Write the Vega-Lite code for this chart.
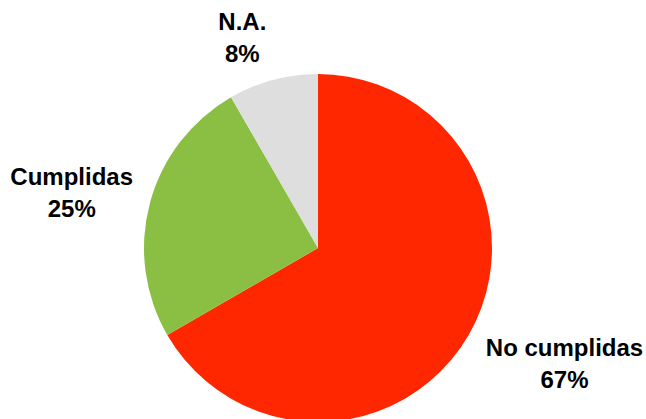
{
  "$schema": "https://vega.github.io/schema/vega-lite/v6.json",
  "width": 636,
  "height": 342,
  "autosize": {"type": "none"},
  "padding": {"left": 0, "top": 77, "right": 10, "bottom": 0},
  "background": "white",
  "config": {"view": {"stroke": null}},
  "data": {
    "values": [
      {"category": "No cumplidas", "value": 0.6667},
      {"category": "Cumplidas", "value": 0.25},
      {"category": "N.A.", "value": 0.0833}
    ]
  },
  "encoding": {
    "theta": {"field": "value", "type": "quantitative", "stack": true},
    "order": {"field": "value", "type": "quantitative", "sort": "descending"}
  },
  "layer": [
    {
      "mark": {"type": "arc", "outerRadius": 174},
      "encoding": {
        "color": {
          "field": "category",
          "type": "nominal",
          "scale": {"domain": ["No cumplidas", "Cumplidas", "N.A."], "range": ["#FF2700", "#8BBF43", "#DEDEDE"]},
          "legend": null
        }
      }
    },
    {
      "mark": {"type": "text", "radius": 222.9, "dx": -18, "dy": -10, "font": "Liberation Sans", "fontWeight": "bold", "fontSize": 24, "baseline": "middle", "align": "center", "color": "#000000"},
      "encoding": {"text": {"condition": {"test": "datum.category === 'N.A.'", "field": "category"}, "value": ""}}
    },
    {
      "mark": {"type": "text", "radius": 222.9, "dx": -18, "dy": 22, "font": "Liberation Sans", "fontWeight": "bold", "fontSize": 24, "baseline": "middle", "align": "center", "color": "#000000"},
      "encoding": {"text": {"condition": {"test": "datum.category === 'N.A.'", "field": "value", "format": ".0%"}, "value": ""}}
    },
    {
      "mark": {"type": "text", "radius": 251.9, "dx": -3, "dy": -5, "font": "Liberation Sans", "fontWeight": "bold", "fontSize": 24, "baseline": "middle", "align": "center", "color": "#000000"},
      "encoding": {"text": {"condition": {"test": "datum.category === 'Cumplidas'", "field": "category"}, "value": ""}}
    },
    {
      "mark": {"type": "text", "radius": 251.9, "dx": -3, "dy": 27, "font": "Liberation Sans", "fontWeight": "bold", "fontSize": 24, "baseline": "middle", "align": "center", "color": "#000000"},
      "encoding": {"text": {"condition": {"test": "datum.category === 'Cumplidas'", "field": "value", "format": ".0%"}, "value": ""}}
    },
    {
      "mark": {"type": "text", "radius": 273.1, "dx": 10, "dy": -36, "font": "Liberation Sans", "fontWeight": "bold", "fontSize": 24, "baseline": "middle", "align": "center", "color": "#000000"},
      "encoding": {"text": {"condition": {"test": "datum.category === 'No cumplidas'", "field": "category"}, "value": ""}}
    },
    {
      "mark": {"type": "text", "radius": 273.1, "dx": 10, "dy": -4, "font": "Liberation Sans", "fontWeight": "bold", "fontSize": 24, "baseline": "middle", "align": "center", "color": "#000000"},
      "encoding": {"text": {"condition": {"test": "datum.category === 'No cumplidas'", "field": "value", "format": ".0%"}, "value": ""}}
    }
  ]
}
